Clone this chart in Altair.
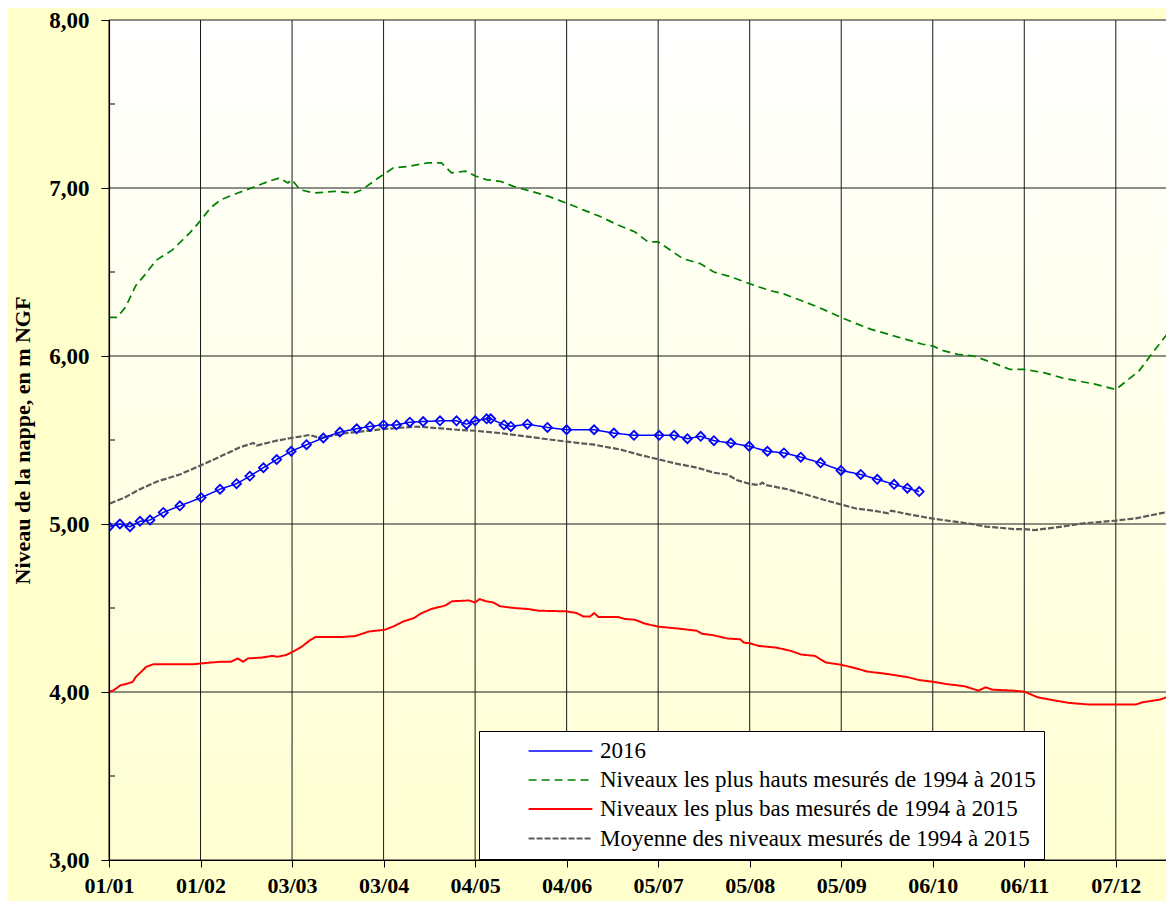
import altair as alt
import pandas as pd

# ---------------- series names / styles ----------------
S_2016 = "2016"
S_HIGH = "Niveaux les plus hauts mesurés de 1994 à 2015"
S_LOW = "Niveaux les plus bas mesurés de 1994 à 2015"
S_MEAN = "Moyenne des niveaux mesurés de 1994 à 2015"
series_names = [S_2016, S_HIGH, S_LOW, S_MEAN]
series_colors = ["#0000FF", "#008000", "#FF0000", "#5A5A5A"]
series_dash = [[1, 0], [8, 5], [1, 0], [6, 2]]
series_width = [1.5, 2.2, 3.5, 1.1]

# ---------------- axes ----------------
x_tick_days = [0, 31, 62, 93, 124, 155, 186, 217, 248, 279, 310, 341]
x_tick_labels = ["01/01", "01/02", "03/03", "03/04", "04/05", "04/06",
                 "05/07", "05/08", "05/09", "06/10", "06/11", "07/12"]
x_domain = [0, 358]
y_ticks = [3, 4, 5, 6, 7, 8]
y_minor = [3.5, 4.5, 5.5, 6.5, 7.5]

# ---------------- data (day offset from 01/01, level in m NGF) ----------------
high_days = [0, 2.7, 5.6, 9.1, 12, 16, 21.4, 27.2, 31.2, 34.3, 37.8, 43.6, 48.3, 54.1,
             57.7, 60.6, 61.9, 64.7, 69.4, 76.4, 82.8, 85.7, 90.4, 96.3, 102, 108, 112.6,
             116, 120.8, 124.3, 127.8, 132.5, 137, 143, 148.9, 155, 160.6, 166.4, 172.3,
             178, 182.5, 186, 194.3, 200.2, 204.9, 210.8, 217, 223.8, 228.5, 234.4, 240.3,
             248, 252, 257.9, 263.8, 269.7, 275.6, 279, 282.8, 287.5, 292.8, 299.3, 305.2,
             310, 316.9, 322.8, 328.7, 334.6, 341, 345.2, 348.8, 353.5, 357, 360.7]
high_vals = [6.23, 6.23, 6.29, 6.42, 6.48, 6.57, 6.63, 6.73, 6.81, 6.88, 6.93, 6.97, 7.00, 7.04,
             7.06, 7.03, 7.05, 6.99, 6.97, 6.98, 6.97, 6.99, 7.05, 7.12, 7.13, 7.15, 7.15,
             7.09, 7.10, 7.07, 7.05, 7.04, 7.01, 6.98, 6.95, 6.91, 6.87, 6.83, 6.78,
             6.74, 6.68, 6.68, 6.58, 6.55, 6.50, 6.47, 6.43, 6.39, 6.37, 6.33, 6.29,
             6.23, 6.20, 6.16, 6.13, 6.10, 6.07, 6.06, 6.03, 6.01, 6.00, 5.96, 5.92,
             5.92, 5.90, 5.87, 5.85, 5.83, 5.80, 5.86, 5.91, 6.02, 6.10, 6.18]

low_days = [0, 1.5, 3.9, 6.2, 8, 9.1, 10.9, 12.6, 15, 20.2, 28.4, 31.2, 34.3, 37.8, 41.3,
            43.6, 45.4, 47.1, 51.8, 55.3, 57.1, 60, 62.3, 65.3, 68.2, 69.9, 78.7, 83.4, 88,
            93.3, 96.3, 99.7, 103.3, 105.6, 109.1, 113.8, 116.2, 122, 124, 125.5, 127.8,
            130.2, 132.5, 137.2, 141.9, 145.4, 155, 158.4, 160.6, 163, 164.3, 165.8, 172.3,
            174.6, 178.2, 181.3, 186, 193.1, 199, 200.8, 204.9, 209.6, 213.8, 215, 217,
            220.2, 226.1, 230.9, 234.4, 239.1, 242.7, 248, 253.2, 256.7, 263.8, 270.9,
            274.4, 279, 283.8, 289.8, 294.5, 296.9, 299.2, 306.3, 310, 314.6, 320.5, 325.2,
            332.3, 341, 347.7, 350.1, 356, 359.6, 361.7]
low_vals = [4.00, 4.01, 4.04, 4.05, 4.06, 4.09, 4.12, 4.15, 4.165, 4.165, 4.165, 4.17, 4.175, 4.18, 4.18,
            4.20, 4.18, 4.20, 4.205, 4.215, 4.21, 4.22, 4.24, 4.27, 4.31, 4.327, 4.327, 4.333, 4.36,
            4.37, 4.39, 4.42, 4.44, 4.467, 4.494, 4.514, 4.54, 4.545, 4.533, 4.553, 4.54,
            4.533, 4.51, 4.50, 4.494, 4.484, 4.48, 4.47, 4.45, 4.45, 4.47, 4.447, 4.447,
            4.435, 4.43, 4.408, 4.389, 4.377, 4.365, 4.347, 4.337, 4.318, 4.314, 4.294, 4.29,
            4.274, 4.264, 4.245, 4.223, 4.215, 4.176, 4.162, 4.14, 4.122, 4.107, 4.087,
            4.071, 4.061, 4.047, 4.034, 4.008, 4.028, 4.014, 4.008, 4.002, 3.968, 3.949, 3.935,
            3.925, 3.925, 3.925, 3.939, 3.955, 3.978, 3.982]

mean_days = [0.3, 4.9, 10.5, 16.1, 24, 31.2, 38.7, 44.4, 48.9, 50, 56.8, 61.7, 68, 71.4, 80,
             93, 104.2, 111, 117.8, 124, 132.7, 141.7, 155, 164.3, 173.3, 180.1, 186.3, 192.5,
             199.3, 204.9, 209.4, 212.8, 216.8, 220.1, 221.3, 222.4, 229.7, 237.7, 243.3, 248,
             253.3, 259.2, 264, 264.9, 271, 279, 286.4, 292.3, 297, 301.7, 306.5, 310, 313.6,
             318.3, 324.2, 330.1, 341, 347.8, 356, 361.7]
mean_vals = [5.122, 5.154, 5.207, 5.252, 5.295, 5.35, 5.41, 5.457, 5.482, 5.467, 5.496, 5.512, 5.53, 5.512, 5.54,
             5.565, 5.58, 5.571, 5.561, 5.555, 5.541, 5.52, 5.49, 5.472, 5.443, 5.41, 5.384, 5.358,
             5.335, 5.305, 5.295, 5.26, 5.24, 5.232, 5.246, 5.232, 5.207, 5.167, 5.138, 5.116,
             5.091, 5.079, 5.063, 5.079, 5.057, 5.032, 5.014, 5.0, 4.984, 4.978, 4.970, 4.970, 4.964,
             4.974, 4.988, 5.004, 5.02, 5.034, 5.063, 5.083]

y2016_days = [0, 3.7, 7.1, 10.5, 13.9, 18.4, 24, 31.2, 37.6, 43.2, 47.7, 52.3, 56.8, 61.7, 66.9,
              72.6, 78.2, 83.9, 88.4, 93, 97.4, 101.9, 106.4, 112.1, 117.7, 121.1, 124, 127.9,
              129.3, 133.8, 136.1, 141.7, 148.5, 155, 164.3, 171, 177.8, 186.3, 191.4, 195.9,
              200.4, 204.9, 210.6, 216.8, 223, 228.6, 234.3, 241, 247.9, 254.6, 260.2, 265.9,
              270.4, 274.4]
y2016_vals = [4.984, 5.0, 4.984, 5.016, 5.024, 5.069, 5.108, 5.157, 5.207, 5.24, 5.285, 5.335, 5.384, 5.433, 5.472,
              5.512, 5.547, 5.567, 5.581, 5.59, 5.59, 5.606, 5.61, 5.614, 5.614, 5.594, 5.614, 5.626,
              5.626, 5.59, 5.581, 5.594, 5.575, 5.561, 5.561, 5.541, 5.528, 5.528, 5.528, 5.508,
              5.522, 5.496, 5.482, 5.463, 5.433, 5.423, 5.398, 5.364, 5.319, 5.295, 5.266, 5.236,
              5.213, 5.193]

# ---------------- build tables ----------------
frames = []
for name, d, v in [(S_HIGH, high_days, high_vals), (S_LOW, low_days, low_vals),
                   (S_MEAN, mean_days, mean_vals), (S_2016, y2016_days, y2016_vals)]:
    assert len(d) == len(v), name
    frames.append(pd.DataFrame({"day": d, "level": v, "series": name}))
df = pd.concat(frames, ignore_index=True)
df2016 = df[df["series"] == S_2016]

bg_df = pd.DataFrame({"x0": [x_domain[0]], "x1": [x_domain[1]], "y0": [y_ticks[-1]], "y1": [y_ticks[0]]})
minor_df = pd.DataFrame({"level": y_minor})
vgrid_df = pd.DataFrame({"day": x_tick_days})
hgrid_df = pd.DataFrame({"level": y_ticks})

FONT = "Liberation Serif"
label_map = "{" + ",".join(f"'{d}':'{l}'" for d, l in zip(x_tick_days, x_tick_labels)) + "}"

x_scale = alt.Scale(domain=x_domain, nice=False, zero=False)
y_scale = alt.Scale(domain=[y_ticks[0], y_ticks[-1]], nice=False, zero=False)

x_axis = alt.Axis(values=x_tick_days, labelExpr=f"{label_map}[datum.value]", title=None,
                  grid=False, tickColor="#000", tickSize=7, zindex=1,
                  domainColor="#000", domainWidth=1.2, labelFont=FONT, labelFontSize=22,
                  labelFontWeight="bold", labelColor="#000", labelPadding=8, labelFlush=False,
                  labelOverlap=False)
y_axis = alt.Axis(values=y_ticks, labelExpr="replace(format(datum.value, '.2f'), '.', ',')",
                  title="Niveau de la nappe, en m NGF", titleFont=FONT, titleFontSize=22,
                  titleFontWeight="bold", titleColor="#000", titleX=-87, titleBaseline="middle",
                  titleAlign="center", titleAngle=270, zindex=1,
                  grid=False, tickColor="#000", tickSize=8,
                  domainColor="#000", domainWidth=1.2, labelFont=FONT, labelFontSize=23,
                  labelFontWeight="bold", labelColor="#000", labelPadding=12, labelFlush=False)

bg = alt.Chart(bg_df).mark_rect(
    color=alt.Gradient(gradient="linear",
                       stops=[alt.GradientStop(color="#FFFFFF", offset=0),
                              alt.GradientStop(color="#FFFFD2", offset=1)],
                       x1=0, x2=0, y1=0, y2=1)
).encode(
    x=alt.X("x0:Q", scale=x_scale, axis=x_axis),
    x2="x1:Q",
    y=alt.Y("y0:Q", scale=y_scale, axis=y_axis),
    y2="y1:Q",
)

vgrid = alt.Chart(vgrid_df).mark_rule(color="#1a1a1a", strokeWidth=1).encode(
    x=alt.X("day:Q", scale=x_scale),
)
hgrid = alt.Chart(hgrid_df).mark_rule(color="#1a1a1a", strokeWidth=1).encode(
    y=alt.Y("level:Q", scale=y_scale),
)

minor = alt.Chart(minor_df).mark_rule(color="#000", strokeWidth=1).encode(
    y=alt.Y("level:Q", scale=y_scale),
    x=alt.value(0), x2=alt.value(6),
)

legend = alt.Legend(title=None, orient="none", legendX=370, legendY=711,
                    fillColor="#FFFFFF", strokeColor="#000", padding=8,
                    symbolType="M-2.9,0L2.9,0", symbolSize=484, symbolOffset=61,
                    labelOffset=27, rowPadding=5, labelFont=FONT, labelFontSize=23,
                    labelColor="#000", labelLimit=0)

lines = alt.Chart(df).mark_line(clip=True).encode(
    x=alt.X("day:Q", scale=x_scale),
    y=alt.Y("level:Q", scale=y_scale),
    color=alt.Color("series:N", scale=alt.Scale(domain=series_names, range=series_colors),
                    legend=legend),
    strokeDash=alt.StrokeDash("series:N", scale=alt.Scale(domain=series_names, range=series_dash),
                              legend=legend),
    strokeWidth=alt.StrokeWidth("series:N", scale=alt.Scale(domain=series_names, range=series_width),
                                legend=legend),
    detail="series:N",
)

points = alt.Chart(df2016).mark_point(shape="diamond", filled=False, size=80, strokeWidth=1.8,
                                      color="#0000FF", opacity=1, clip=True).encode(
    x=alt.X("day:Q", scale=x_scale),
    y=alt.Y("level:Q", scale=y_scale),
)

chart = alt.layer(bg, vgrid, hgrid, minor, lines, points).properties(
    width=1057, height=840,
    autosize=alt.AutoSizeParams(type="none"),
    padding={"left": 101, "top": 12, "right": 0, "bottom": 41},
    background="#FFFFCC",
).configure_view(stroke=None)

chart.save("out.html", embed_options={"renderer": "svg", "actions": False})
